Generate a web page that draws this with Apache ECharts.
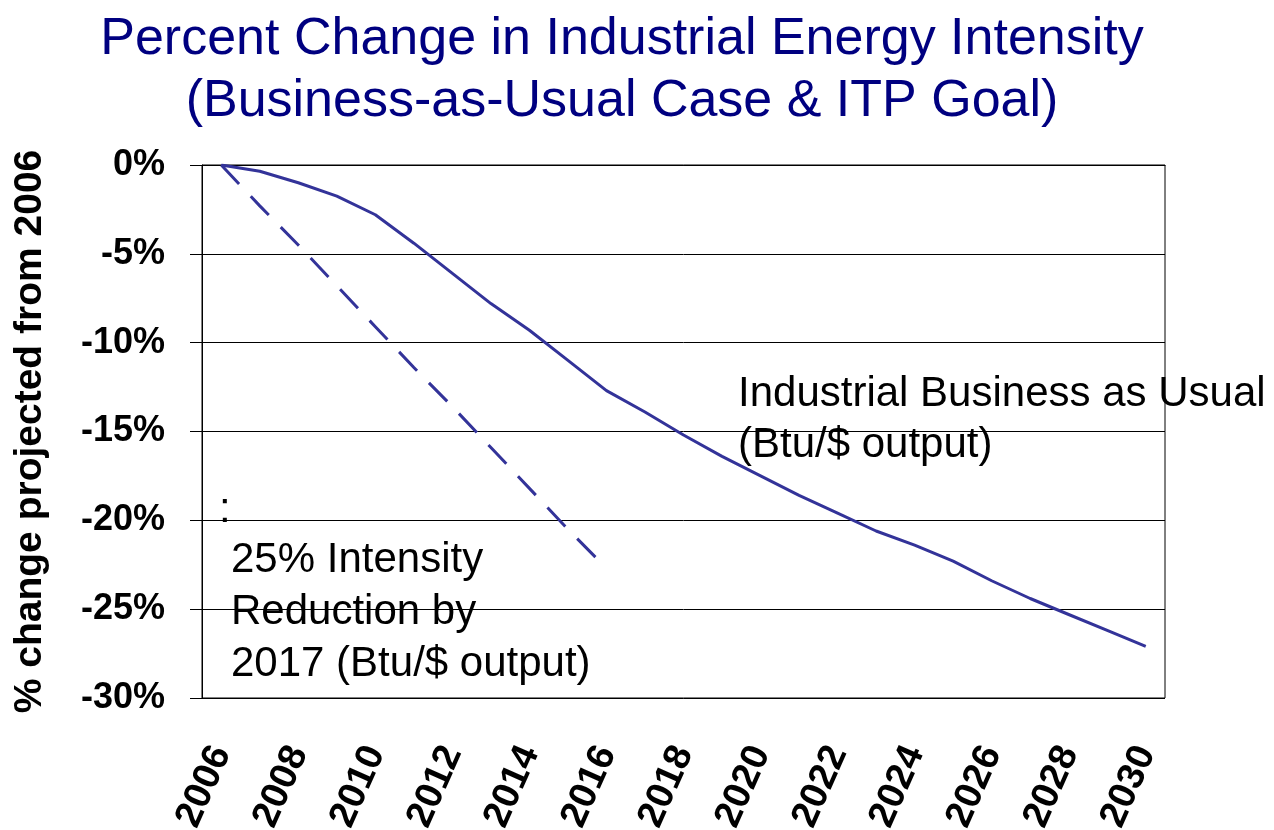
<!DOCTYPE html>
<html>
<head>
<meta charset="utf-8">
<script src="https://cdn.jsdelivr.net/npm/echarts@6/dist/echarts.min.js"></script>
<style>
  html, body { margin: 0; padding: 0; background: #fff; }
  #main { width: 1274px; height: 830px; }
</style>
</head>
<body>
<div id="main"></div>
<script>
// years on the x axis
var years = ['2006', '2007', '2008', '2009', '2010', '2011', '2012', '2013', '2014', '2015',
  '2016', '2017', '2018', '2019', '2020', '2021', '2022', '2023', '2024', '2025',
  '2026', '2027', '2028', '2029', '2030'];

// Industrial Business as Usual (% change from 2006)
var businessAsUsual = [0, -0.35, -1.0, -1.75, -2.8, -4.4, -6.1, -7.8, -9.3, -11.0,
  -12.7, -13.9, -15.2, -16.4, -17.5, -18.6, -19.6, -20.6, -21.4, -22.3,
  -23.4, -24.4, -25.3, -26.2, -27.1];

// ITP goal: 25% reduction by 2017
var itpGoal = [0, -2.3, -4.5, -6.8, -9.1, -11.4, -13.6, -15.9, -18.2, -20.5, -22.7];

var FONT = "'Liberation Sans', Arial, sans-serif";

var chart = echarts.init(document.getElementById('main'), null, { renderer: 'canvas' });

var option = {
  backgroundColor: '#ffffff',
  animation: false,
  grid: {
    left: 202,
    right: 109,
    top: 165,
    bottom: 132,
    outerBoundsMode: 'none',
    containLabel: false,
    show: true,
    borderColor: '#000',
    borderWidth: 1
  },
  xAxis: {
    type: 'category',
    data: years,
    boundaryGap: true,
    axisLine: { lineStyle: { color: '#000', width: 1 } },
    axisTick: { interval: 0, length: 12, lineStyle: { color: '#000' } },
    axisLabel: {
      interval: 1,
      rotate: 66,
      margin: 50,
      color: '#000',
      fontFamily: FONT,
      fontWeight: 'bold',
      fontSize: 38
    },
    splitLine: { show: false }
  },
  yAxis: {
    type: 'value',
    min: -30,
    max: 0,
    interval: 5,
    name: '% change projected from 2006',
    nameLocation: 'middle',
    nameGap: 152,
    nameRotate: 90,
    nameTextStyle: {
      color: '#000',
      fontFamily: FONT,
      fontWeight: 'bold',
      fontSize: 39
    },
    axisLine: { show: true, lineStyle: { color: '#000', width: 1 } },
    axisTick: { show: true, length: 12, lineStyle: { color: '#000' } },
    axisLabel: {
      formatter: '{value}%',
      margin: 37,
      color: '#000',
      fontFamily: FONT,
      fontWeight: 'bold',
      fontSize: 36
    },
    splitLine: { show: true, lineStyle: { color: '#000', width: 1 } }
  },
  series: [{
    name: 'Industrial Business as Usual',
    type: 'line',
    data: businessAsUsual,
    showSymbol: false,
    lineStyle: { color: '#333399', width: 3 }
  }, {
    name: '25% Intensity Reduction by 2017',
    type: 'line',
    data: itpGoal,
    showSymbol: false,
    lineStyle: { color: '#333399', width: 3, type: [26, 17] }
  }],
  graphic: [{
    // title, two lines
    type: 'text',
    x: 622,
    y: 9,
    style: {
      text: 'Percent Change in Industrial Energy Intensity\n(Business-as-Usual Case & ITP Goal)',
      font: '52px ' + FONT,
      fill: '#000080',
      align: 'center',
      verticalAlign: 'top',
      lineHeight: 62
    }
  }, {
    type: 'text',
    x: 738,
    y: 369,
    style: {
      text: 'Industrial Business as Usual\n(Btu/$ output)',
      font: '42px ' + FONT,
      fill: '#000',
      align: 'left',
      verticalAlign: 'top',
      lineHeight: 51
    }
  }, {
    type: 'text',
    x: 219,
    y: 489,
    style: {
      text: ':',
      font: '42px ' + FONT,
      fill: '#000',
      align: 'left',
      verticalAlign: 'top',
      lineHeight: 42
    }
  }, {
    type: 'text',
    x: 231,
    y: 535,
    style: {
      text: '25% Intensity\nReduction by\n2017 (Btu/$ output)',
      font: '42px ' + FONT,
      fill: '#000',
      align: 'left',
      verticalAlign: 'top',
      lineHeight: 51.7
    }
  }]
};

chart.setOption(option);
</script>
</body>
</html>
